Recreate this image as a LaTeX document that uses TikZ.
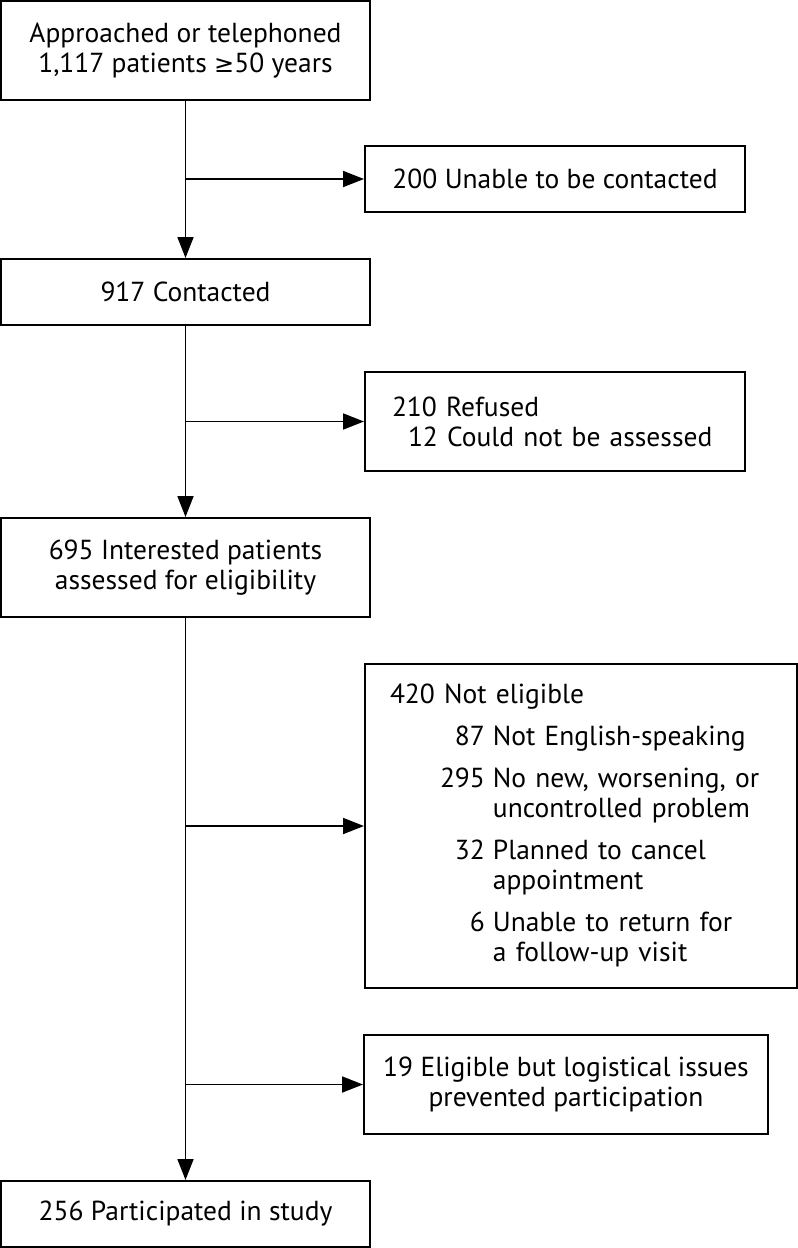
\documentclass[tikz,border=0pt]{standalone}
\usepackage{fontspec}
\setmainfont{PT Sans}
\newfontfamily\symfont{DejaVu Sans}
\usetikzlibrary{arrows.meta}

\begin{document}
\begin{tikzpicture}[x=1pt,y=-1pt,
    >={Triangle[length=21pt,width=16pt]},
    box/.style={draw,line width=2pt,inner sep=0pt,font=\fontsize{27.5}{30}\selectfont},
    flow/.style={line width=1.8pt}]
    \useasboundingbox (0,0) rectangle (798,1248);
    % main column
    \node[box,minimum width=369pt,minimum height=99pt,align=center] (approached) at (185.5,50.5) {Approached or telephoned\\1,117 patients {\symfont\fontsize{24}{30}\selectfont ≥}50 years};
    \node[box,minimum width=369pt,minimum height=66pt] (contacted) at (185.5,292) {917 Contacted};
    \node[box,minimum width=369pt,minimum height=99pt,align=center] (assessed) at (185.5,567.5) {695 Interested patients\\assessed for eligibility};
    \node[box,minimum width=369pt,minimum height=66pt] (participated) at (185.5,1214) {256 Participated in study};
    % side boxes
    \node[box,minimum width=380pt,minimum height=66pt] (unable) at (555,179) {200 Unable to be contacted};
    \node[box,minimum width=380pt,minimum height=99pt,text width=326pt,align=left] (refused) at (555,421.5) {210 Refused\\\hspace*{16pt}12 Could not be assessed};
    \node[box,minimum width=432pt,minimum height=324pt,text width=382pt,align=left] (noteligible) at (581,826) {\begin{tabular}{@{}p{50pt}@{}r@{\hspace{8pt}}l@{}}
        \multicolumn{3}{@{}l@{}}{420 Not eligible}\\[12pt]
        & 87 & Not English-speaking\\[12pt]
        & 295 & No new, worsening, or\\
        & & uncontrolled problem\\[12pt]
        & 32 & Planned to cancel\\
        & & appointment\\[12pt]
        & 6 & Unable to return for\\
        & & a follow-up visit
      \end{tabular}};
    \node[box,minimum width=404pt,minimum height=99pt,align=center] (logistical) at (566,1084.5) {19 Eligible but logistical issues\\prevented participation};
    % connectors
    \draw[flow,->] (approached) -- (contacted); % main line
    \draw[flow,->] (contacted) -- (assessed); % main line
    \draw[flow,->] (assessed) -- (participated); % main line
    \draw[flow,->] (approached.south |- unable.west) -- (unable.west); % branch
    \draw[flow,->] (contacted.south |- refused.west) -- (refused.west); % branch
    \draw[flow,->] (assessed.south |- noteligible.west) -- (noteligible.west); % branch
    \draw[flow,->] (assessed.south |- logistical.west) -- (logistical.west); % branch
\end{tikzpicture}
\end{document}
